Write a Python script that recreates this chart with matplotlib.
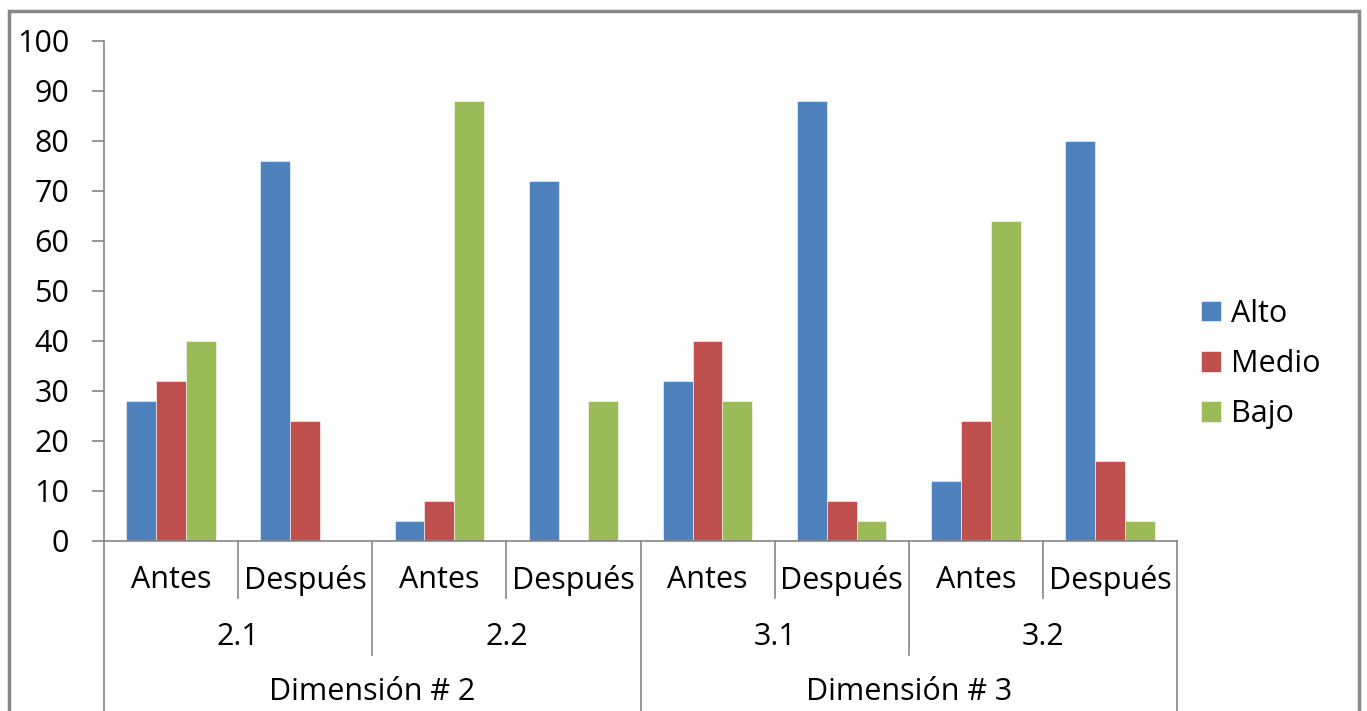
import matplotlib
matplotlib.use("Agg")
import matplotlib.pyplot as plt
import numpy as np
from matplotlib.patches import Rectangle

plt.rcParams['font.family'] = ['Open Sans', 'DejaVu Sans']

# data
periods = ["Antes", "Después", "Antes", "Después", "Antes", "Después", "Antes", "Después"]
subgroups = ["2.1", "2.2", "3.1", "3.2"]
dimensions = ["Dimensión # 2", "Dimensión # 3"]
series = ["Alto", "Medio", "Bajo"]
alto = [28, 76, 4, 72, 32, 88, 12, 80]
medio = [32, 24, 8, 0, 40, 8, 24, 16]
bajo = [40, 0, 88, 28, 28, 4, 64, 4]
colors = ["#4F81BD", "#C0504D", "#9BBB59"]

FS = 22

fig = plt.figure(figsize=(13.67, 7.11), dpi=100)
ax = fig.add_axes([104 / 1367, 170 / 711, (1177 - 104) / 1367, 500 / 711])

x = np.arange(len(periods))
w = 1 / 4.5
for i, (vals, name) in enumerate(zip([alto, medio, bajo], series)):
    ax.bar(x + (i - 1) * w, vals, width=w, color=colors[i], label=name,
           edgecolor="#ffffff", linewidth=0.4)

ax.set_xlim(-0.5, len(periods) - 0.5)
ax.set_ylim(0, 100)
ax.set_yticks(np.arange(0, 101, 10))
ax.set_xticks([])
ax.tick_params(axis="y", direction="out", length=9, width=1.2, color="#868686",
               labelsize=FS, pad=16)
for s in ["top", "right"]:
    ax.spines[s].set_visible(False)
for s in ["left", "bottom"]:
    ax.spines[s].set_color("#868686")
    ax.spines[s].set_linewidth(1.2)

# multi-level category axis below the plot
tr = ax.get_xaxis_transform()
line_kw = dict(color="#868686", lw=1.2, transform=tr, clip_on=False)
for k in range(len(periods) + 1):
    xb = k - 0.5
    if k % 4 == 0:
        y_end = -0.4
    elif k % 2 == 0:
        y_end = -0.228
    else:
        y_end = -0.114
    ax.plot([xb, xb], [0, y_end], **line_kw)

for k, lab in enumerate(periods):
    ax.text(k, -0.078, lab, transform=tr, ha="center", va="center", fontsize=FS)
for k, lab in enumerate(subgroups):
    ax.text(2 * k + 0.5, -0.192, lab, transform=tr, ha="center", va="center", fontsize=FS)
for k, lab in enumerate(dimensions):
    ax.text(4 * k + 1.5, -0.302, lab, transform=tr, ha="center", va="center", fontsize=FS)

ax.legend(loc="center left", bbox_to_anchor=(1201 / 1367, 1 - 364 / 711),
          bbox_transform=fig.transFigure, frameon=False, fontsize=FS,
          handlelength=0.66, handleheight=0.66, handletextpad=0.33,
          labelspacing=0.67, borderaxespad=0, borderpad=0)

# outer chart border
fig.patches.append(Rectangle((9 / 1367, -0.05), (1359 - 9) / 1367, 1.05 - 11 / 711,
                             transform=fig.transFigure, fill=False,
                             edgecolor="#888888", linewidth=2.5))

fig.savefig("out.png", dpi=100)
